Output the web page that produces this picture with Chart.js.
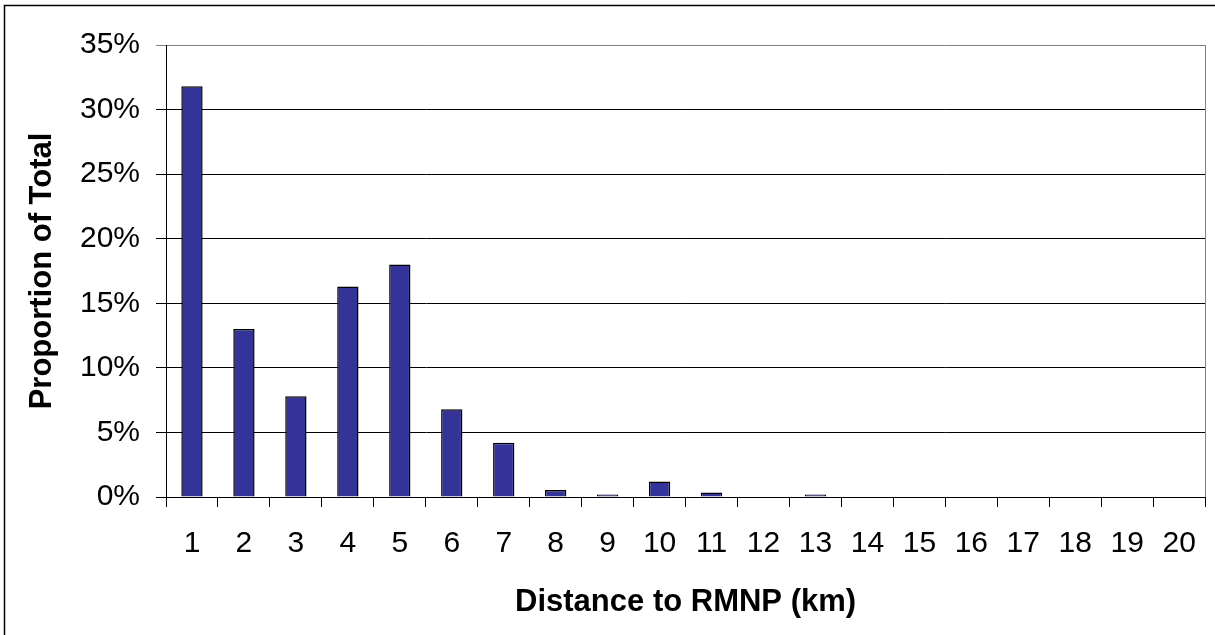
<!DOCTYPE html>
<html>
<head>
<meta charset="utf-8">
<script src="https://cdn.jsdelivr.net/npm/chart.js@4"></script>
<style>
  html, body { margin: 0; padding: 0; background: #fff; }
  #wrap { width: 1215px; height: 635px; position: relative; }
</style>
</head>
<body>
<div id="wrap"><canvas id="chart" width="1215" height="635"></canvas></div>
<script>
// distance bins (km) and share of total (%)
var distances = ['1','2','3','4','5','6','7','8','9','10','11','12','13','14','15','16','17','18','19','20'];
var proportions = [31.8, 13.0, 7.8, 16.3, 18.0, 6.8, 4.2, 0.55, 0.2, 1.2, 0.35, 0, 0.2, 0, 0, 0, 0, 0, 0, 0];
var yTicks = [0, 5, 10, 15, 20, 25, 30, 35];

var fontFamily = "'Liberation Sans', Arial, sans-serif";

// white background, outer frame and the grey plot border on the right
var framePlugin = {
    id: 'frame',
    beforeDraw: function(chart){
        var ctx = chart.ctx;
        ctx.save();
        ctx.fillStyle = '#fff';
        ctx.fillRect(0, 0, chart.width, chart.height);
        ctx.strokeStyle = '#000';
        ctx.lineWidth = 1.5;
        ctx.beginPath();
        ctx.moveTo(4.5, chart.height);
        ctx.lineTo(4.5, 5.5);
        ctx.lineTo(chart.width, 5.5);
        ctx.stroke();
        ctx.restore();
    },
    afterDatasetsDraw: function(chart){
        var a = chart.chartArea, ctx = chart.ctx;
        ctx.save();
        ctx.strokeStyle = '#808080';
        ctx.lineWidth = 1;
        ctx.beginPath();
        ctx.moveTo(Math.round(a.right) + 0.5, a.top);
        ctx.lineTo(Math.round(a.right) + 0.5, a.bottom);
        ctx.stroke();
        ctx.restore();
    }
};

new Chart(document.getElementById('chart'), {
    type: 'bar',
    data: {
        labels: distances,
        datasets: [{
            label: 'Proportion of Total',
            data: proportions,
            backgroundColor: '#333399',
            borderColor: '#000',
            borderWidth: 1.5,
            barPercentage: 0.41,
            categoryPercentage: 1
        }]
    },
    options: {
        responsive: false,
        animation: false,
        events: [],
        layout: { padding: { top: 45, right: 6, left: 0, bottom: 0 } },
        plugins: {
            legend: { display: false },
            tooltip: { enabled: false }
        },
        scales: {
            x: {
                afterFit: function(scale){ scale.height = 138; },
                grid: {
                    offset: true,
                    drawOnChartArea: false,
                    drawTicks: true,
                    tickLength: 10,
                    color: '#000'
                },
                border: { color: '#000', width: 1 },
                ticks: {
                    color: '#000',
                    padding: 19,
                    maxRotation: 0,
                    autoSkip: false,
                    font: { family: fontFamily, size: 30 }
                },
                title: {
                    display: true,
                    text: 'Distance to RMNP (km)',
                    color: '#000',
                    padding: { top: 0, bottom: 17 },
                    font: { family: fontFamily, size: 31, weight: 'bold', lineHeight: 1 }
                }
            },
            y: {
                min: 0,
                max: 35,
                afterFit: function(scale){ scale.width = 166; },
                afterBuildTicks: function(scale){
                    scale.ticks = yTicks.map(function(v){ return { value: v }; });
                },
                grid: {
                    color: function(c){ return c.tick && c.tick.value === 35 ? '#808080' : '#000'; },
                    tickLength: 10
                },
                border: { color: '#000', width: 1 },
                ticks: {
                    color: '#000',
                    padding: 16,
                    font: { family: fontFamily, size: 30 },
                    callback: function(v){ return v + '%'; }
                },
                title: {
                    display: true,
                    text: 'Proportion of Total',
                    color: '#000',
                    padding: { top: 27, bottom: 0 },
                    font: { family: fontFamily, size: 31, weight: 'bold', lineHeight: 1 }
                }
            }
        }
    },
    plugins: [framePlugin]
});
</script>
</body>
</html>
